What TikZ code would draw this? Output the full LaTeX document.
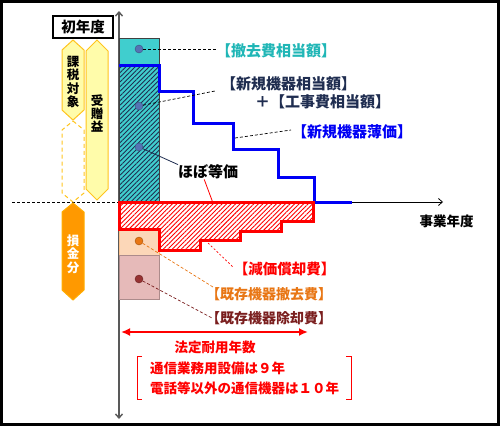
\documentclass[tikz,border=0pt]{standalone}
\usepackage{fontspec}
\setmainfont{Noto Sans CJK JP}
\newfontfamily\halfbr{Noto Sans CJK JP}[RawFeature=+halt]
\usetikzlibrary{arrows.meta,patterns.meta}

\definecolor{tealfill}{RGB}{64,206,206}
\definecolor{teallabel}{RGB}{32,182,182}
\definecolor{navylabel}{RGB}{31,45,80}
\definecolor{stepblue}{RGB}{0,0,245}
\definecolor{lossred}{RGB}{255,0,0}
\definecolor{removeorange}{RGB}{232,118,20}
\definecolor{peachfill}{RGB}{252,215,184}
\definecolor{pinkfill}{RGB}{230,186,185}
\definecolor{darkredlabel}{RGB}{122,30,30}
\definecolor{dotred}{RGB}{150,50,50}
\definecolor{goldline}{RGB}{255,196,30}
\definecolor{paleyellow}{RGB}{255,252,170}
\definecolor{lossorange}{RGB}{255,153,0}
\definecolor{dotblue}{RGB}{85,115,180}

\begin{document}
\begin{tikzpicture}[
  x=1pt, y=-1pt,
  font=\bfseries,
  >=Latex,
  lbl/.style={anchor=west, inner sep=0pt, font=\bfseries\fontsize{15}{16}\selectfont},
  costlbl/.style={anchor=west, inner sep=0pt, font=\halfbr\bfseries\fontsize{#1}{16}\selectfont},
  note/.style={inner sep=0pt, font=\bfseries\fontsize{13.5}{15}\selectfont},
  vtext/.style={inner sep=0pt, align=center, font=\bfseries\fontsize{12.5}{13.3}\selectfont},
  dot/.style={circle, inner sep=0pt, minimum size=8pt, draw=#1!70!black, fill=#1},
  leader/.style={dash pattern=on 3pt off 2pt, line width=0.7pt},
  stepline/.style={stepblue, line width=3pt},
  hatchblue/.style={preaction={fill=tealfill}, pattern={Lines[angle=45,distance=3.3pt,line width=0.9pt]}, pattern color=navylabel},
  hatchred/.style={pattern={Lines[angle=45,distance=3.2pt,line width=0.9pt]}, pattern color=lossred},
  tag/.style={draw=goldline, line width=1pt}
]
\useasboundingbox (0,0) rectangle (500,426);
\draw[line width=3pt] (1.5,1.5) rectangle (498.5,424.5);

\coordinate (O) at (119,202);
\coordinate (ytop) at (119,11);
\coordinate (ybot) at (119,419);
\coordinate (xend) at (443,202);
\coordinate (dashL) at (12,202);
\draw[black!65, line width=1.4pt, {Straight Barb[length=4pt,width=7pt]}-{Straight Barb[length=4pt,width=7pt]}] (ybot) -- (ytop);
\draw[line width=0.8pt, -{Straight Barb[length=4pt,width=7pt]}] (O) -- (xend);
\draw[leader] (dashL) -- (O);

\draw[draw=black!75, fill=tealfill, line width=0.8pt] (119,38) rectangle (159,65);
\draw[draw=black!75, hatchblue, line width=0.8pt] (119,65) rectangle (159,202);
\draw[stepline] (119,65) -- (159,65) -- (159,91) -- (193,91) -- (193,123) -- (233,123) -- (233,149) -- (278,149) -- (278,177) -- (314,177) -- (314,202) -- (352,202);

\draw[draw=peachfill!75!orange, fill=peachfill] (119,229) rectangle (159,255);
\draw[draw=pinkfill!75!black, fill=pinkfill] (119,255) rectangle (159,299);
\draw[lossred, line width=3pt, hatchred] (119,202) -- (313,202) -- (313,221) -- (281,221) -- (281,231) -- (240,231) -- (240,240) -- (200,240) -- (200,250) -- (159,250) -- (159,229) -- (119,229) -- cycle;

\node[dot=dotblue] (dRemove) at (139,49) {};
\node[dot=dotblue] (dNew) at (139,106) {};
\node[dot=dotblue] (dEqual) at (139,147) {};
\node[dot=removeorange] (dOld) at (139,241) {};
\node[dot=dotred] (dRetire) at (139,279) {};

\node[lbl, teallabel] (lRemove) at (216,51) {【撤去費相当額】};
\node[lbl, navylabel] (lNew) at (221,84) {【新規機器相当額】};
\node[lbl, navylabel] (lWork) at (255,102) {＋【工事費相当額】};
\node[lbl, stepblue] (lBook) at (292,132) {【新規機器薄価】};
\node[anchor=west, inner sep=0pt, font=\bfseries\fontsize{15}{16}\selectfont] (lEqual) at (178,172) {ほぼ等価};
\node[costlbl=14.5, lossred] (lDepr) at (241,269) {【減価償却費】};
\node[costlbl=14, removeorange] (lOld) at (213,294) {【既存機器撤去費】};
\node[costlbl=14, darkredlabel] (lRetire) at (213,318) {【既存機器除却費】};
\node[note] (lYear) at (446.5,221) {事業年度};
\node[draw, line width=1.2pt, minimum width=60pt, minimum height=22pt, inner sep=0pt, font=\bfseries\fontsize{14.5}{16}\selectfont] (first) at (83,27) {初年度};

\coordinate (kRemove) at (217,49);
\coordinate (kNew) at (215,91);
\coordinate (kBookA) at (235,138);
\coordinate (kBookB) at (291,130);
\coordinate (kRedTop) at (213,203);
\coordinate (kDeprA) at (208,243);
\coordinate (kDeprB) at (233,267);
\coordinate (kOld) at (213,287);
\coordinate (kRetire) at (212,318);
\draw[leader] (dRemove) -- (kRemove);
\draw[leader] (dNew) -- (kNew);
\draw[leader] (kBookA) -- (kBookB);
\draw[navylabel, line width=0.8pt] (dEqual) -- (lEqual.north west);
\draw[lossred, line width=0.8pt] ([xshift=-4pt]lEqual.south) -- (kRedTop);
\draw[lossred, line width=0.7pt, dash pattern=on 2pt off 2pt] (kDeprA) -- (kDeprB);
\draw[removeorange, line width=0.7pt, dash pattern=on 3pt off 2pt] (dOld) -- (kOld);
\draw[darkredlabel, line width=0.7pt, dash pattern=on 3pt off 2pt] (dRetire) -- (kRetire);

\coordinate (lifeL) at (121,332);
\coordinate (lifeR) at (308,332);
\draw[lossred, line width=2.4pt, {Latex[length=9pt,width=8pt]}-{Latex[length=9pt,width=8pt]}] (lifeL) -- (lifeR);
\node[note, lossred] (lLife) at (215,347) {法定耐用年数};
\node[note, lossred, anchor=west] (lTelecom) at (150,368) {通信業務用設備は９年};
\node[note, lossred, anchor=west] (lPhone) at (150,388) {電話等以外の通信機器は１０年};
\draw[lossred, line width=1pt] (142,356) -- (137,356) -- (137,399) -- (142,399);
\draw[lossred, line width=1pt] (346,356) -- (351,356) -- (351,399) -- (346,399);

\draw[tag, fill=paleyellow] (73,40) -- (84,50) -- (84,110) -- (73,120) -- (62,110) -- (62,50) -- cycle;
\draw[tag, fill=paleyellow] (97,40) -- (108,51) -- (108,189) -- (97,200) -- (86,189) -- (86,51) -- cycle;
\draw[tag, dash pattern=on 4pt off 3pt] (73,121) -- (84,130) -- (84,193) -- (73,202) -- (62,193) -- (62,130) -- cycle;
\draw[draw=lossorange!80!yellow, fill=lossorange, line width=1pt] (73,203) -- (84,212) -- (84,290) -- (73,300) -- (62,290) -- (62,212) -- cycle;
\node[vtext] (tTax) at (73,82) {課\\税\\対\\象};
\node[vtext] (tGift) at (97,113.5) {受\\贈\\益};
\node[vtext, white] (tLoss) at (73,254) {損\\金\\分};
\end{tikzpicture}
\end{document}
